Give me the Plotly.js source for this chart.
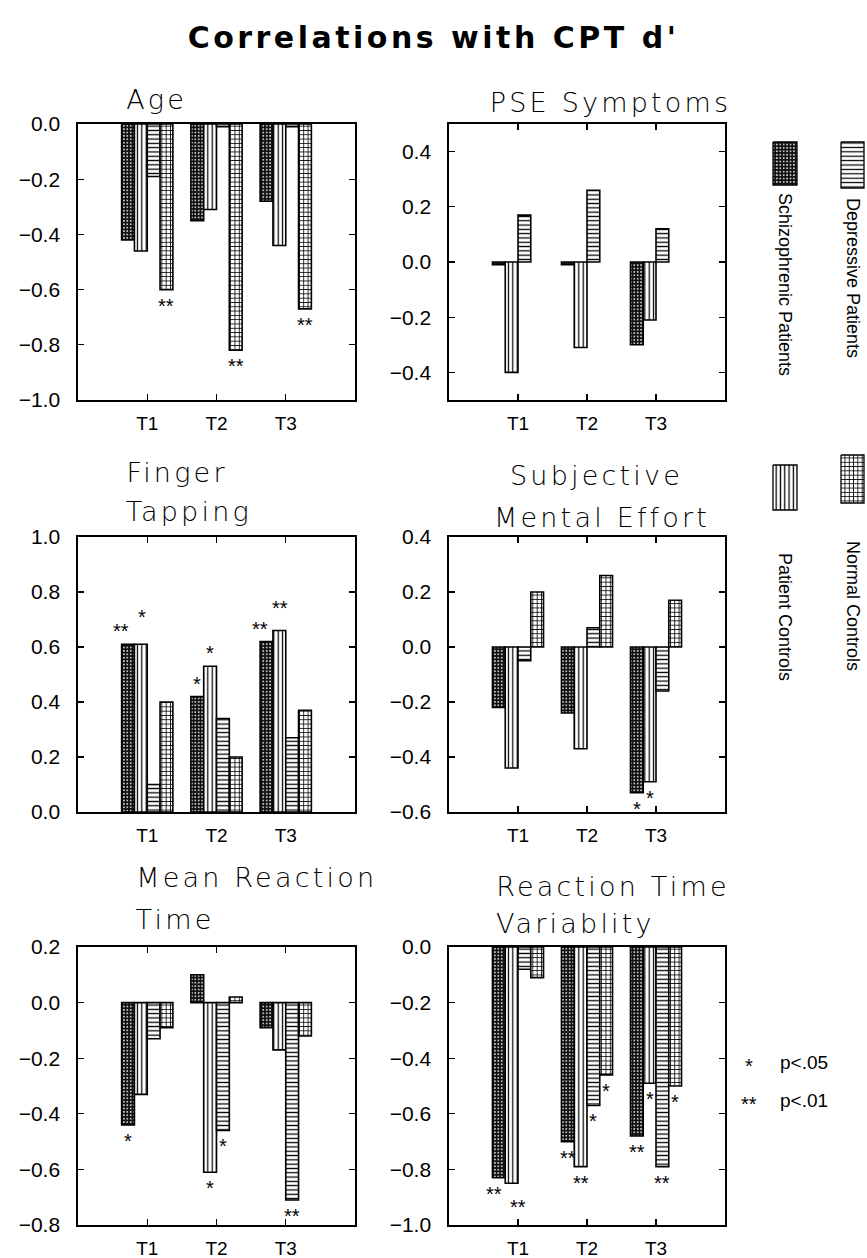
<!DOCTYPE html>
<html>
<head>
<meta charset="utf-8">
<script src="https://cdn.plot.ly/plotly-3.0.1.min.js"></script>
<style>
html,body{margin:0;padding:0;background:#fff;}
#chart{width:867px;height:1258px;}
.gtitle{letter-spacing:3.5px;}
.ptitle{letter-spacing:3.2px;}
</style>
</head>
<body>
<div id="chart"></div>
<script>
// ---------- DATA ----------
const groups = ['T1', 'T2', 'T3'];
const seriesNames = ['Schizophrenic Patients', 'Depressive Patients', 'Patient Controls', 'Normal Controls'];

// each panel: [schizophrenic, depressive, patient controls, normal controls] x [T1, T2, T3]
const age = [[-0.42, -0.35, -0.28], [-0.46, -0.31, -0.44], [-0.19, -0.01, -0.01], [-0.60, -0.82, -0.67]];
const ageSig = [['', '', ''], ['', '', ''], ['', '', ''], ['**', '**', '**']];

const pse = [[-0.01, -0.01, -0.30], [-0.40, -0.31, -0.21], [0.17, 0.26, 0.12], [null, null, null]];
const pseSig = [['', '', ''], ['', '', ''], ['', '', ''], ['', '', '']];

const finger = [[0.61, 0.42, 0.62], [0.61, 0.53, 0.66], [0.10, 0.34, 0.27], [0.40, 0.20, 0.37]];
const fingerSig = [['**', '*', '**'], ['*', '*', '**'], ['', '', ''], ['', '', '']];

const effort = [[-0.22, -0.24, -0.53], [-0.44, -0.37, -0.49], [-0.05, 0.07, -0.16], [0.20, 0.26, 0.17]];
const effortSig = [['', '', '*'], ['', '', '*'], ['', '', ''], ['', '', '']];

const meanRT = [[-0.44, 0.10, -0.09], [-0.33, -0.61, -0.17], [-0.13, -0.46, -0.71], [-0.09, 0.02, -0.12]];
const meanRTSig = [['*', '', ''], ['', '*', ''], ['', '*', '**'], ['', '', '']];

const rtVar = [[-0.83, -0.70, -0.68], [-0.85, -0.79, -0.49], [-0.08, -0.57, -0.79], [-0.11, -0.46, -0.50]];
const rtVarSig = [['**', '**', '**'], ['**', '**', '*'], ['', '*', '**'], ['', '*', '*']];

const sigLegend = [['*', 'p<.05'], ['**', 'p<.01']];

// ---------- LAYOUT HELPERS ----------
const W = 867, H = 1258;
const fx = x => x / W;
const fy = y => 1 - y / H;
const TITLE_LS = 3.2; // letter spacing of the panel titles (px)

const LEFT = [78, 355], RIGHT = [449, 725];
const ROW1 = [124, 400], ROW2 = [537, 812], ROW3 = [947, 1225];

const panels = [
  {data: age, sig: ageSig, range: [-1, 0], xd: LEFT, yd: ROW1,
   title: [['Age', 124, 100]]},
  {data: pse, sig: pseSig, range: [-0.5, 0.5], xd: RIGHT, yd: ROW1,
   title: [['PSE Symptoms', 488, 102]]},
  {data: finger, sig: fingerSig, range: [0, 1], xd: LEFT, yd: ROW2,
   title: [['Finger', 124, 473], ['Tapping', 124, 511]]},
  {data: effort, sig: effortSig, range: [-0.6, 0.4], xd: RIGHT, yd: ROW2,
   title: [['Subjective', 508, 475], ['Mental Effort', 492, 517]]},
  {data: meanRT, sig: meanRTSig, range: [-0.8, 0.2], xd: LEFT, yd: ROW3,
   title: [['Mean Reaction', 134, 877], ['Time', 134, 919]]},
  {data: rtVar, sig: rtVarSig, range: [-1, 0], xd: RIGHT, yd: ROW3,
   title: [['Reaction Time', 494, 886], ['Variablity', 494, 923]]}
];

const patterns = [
  {shape: '.', bgcolor: '#111', fgcolor: '#fff', size: 3.4, solidity: 0.2},
  {shape: '|', bgcolor: '#fff', fgcolor: '#000', size: 4.4, solidity: 0.28},
  {shape: '-', bgcolor: '#fff', fgcolor: '#000', size: 4.3, solidity: 0.3},
  {shape: '+', bgcolor: '#fff', fgcolor: '#000', size: 4.3, solidity: 0.34}
];
const legendPatterns = [
  {shape: '.', bgcolor: '#111', fgcolor: '#fff', size: 3.4, solidity: 0.2},
  {shape: '-', bgcolor: '#fff', fgcolor: '#000', size: 4.4, solidity: 0.28},
  {shape: '|', bgcolor: '#fff', fgcolor: '#000', size: 4.3, solidity: 0.3},
  {shape: '+', bgcolor: '#fff', fgcolor: '#000', size: 4.3, solidity: 0.34}
];

const BARGAP = 0.26;
const barW = (1 - BARGAP) / 4;
const FAMILY = 'Liberation Sans, Arial, sans-serif';
const tickFont = {family: FAMILY, size: 21, color: '#000'};
const titleFont = {family: 'DejaVu Sans, sans-serif', size: 27, color: '#000', weight: 200};
const starFont = {family: FAMILY, size: 20, color: '#000'};

const traces = [];
const annotations = [];
const titleIdx = [];
const layout = {
  width: W, height: H,
  margin: {l: 0, r: 0, t: 0, b: 0},
  paper_bgcolor: '#fff', plot_bgcolor: 'rgba(0,0,0,0)',
  barmode: 'group', bargap: BARGAP, bargroupgap: 0,
  showlegend: false,
  annotations: annotations,
  font: tickFont,
  title: {
    text: "Correlations with CPT d'", x: 0.5, xanchor: 'center', y: fy(37), yanchor: 'middle',
    font: {family: 'DejaVu Sans, sans-serif', size: 30, color: '#000', weight: 'bold'}
  }
};

panels.forEach((p, k) => {
  const n = k + 1;
  const xa = 'xaxis' + (n === 1 ? '' : n), ya = 'yaxis' + (n === 1 ? '' : n);
  const xr = 'x' + (n === 1 ? '' : n), yr = 'y' + (n === 1 ? '' : n);
  layout[xa] = {
    domain: [fx(p.xd[0]), fx(p.xd[1])], anchor: yr,
    range: [0, 4], tickmode: 'array', tickvals: [1, 2, 3], ticktext: groups,
    ticks: 'inside', ticklen: 6, tickwidth: 1.3, tickcolor: '#000',
    showline: true, linecolor: '#000', linewidth: 1.7, mirror: 'ticks',
    showgrid: false, zeroline: false, fixedrange: true,
    tickfont: {family: FAMILY, size: 19, color: '#000'}, ticklabelstandoff: 5
  };
  layout[ya] = {
    domain: [fy(p.yd[1]), fy(p.yd[0])], anchor: xr,
    range: p.range, dtick: 0.2, tick0: 0, tickformat: '.1f',
    ticks: 'inside', ticklen: 6, tickwidth: 1.3, tickcolor: '#000',
    showline: true, linecolor: '#000', linewidth: 1.7, mirror: 'ticks',
    showgrid: false, zeroline: false, fixedrange: true,
    tickfont: tickFont, ticklabelstandoff: 12
  };
  p.data.forEach((vals, i) => {
    traces.push({
      type: 'bar', name: seriesNames[i], x: [1, 2, 3], y: vals,
      xaxis: xr, yaxis: yr, offsetgroup: String(i),
      marker: {color: '#fff', line: {color: '#000', width: 1.6}, pattern: patterns[i]},
      hoverinfo: 'skip'
    });
  });
  // significance stars, placed relative to the bar ends; neighbouring stars are staggered
  for (let g = 0; g < 3; g++) {
    const shifts = [0, 1, 2, 3].map(() => ({dx: 0, dy: 0}));
    for (let i = 1; i < 4; i++) {
      const a = p.data[i - 1][g], b = p.data[i][g];
      if (!(p.sig[i][g] && p.sig[i - 1][g]) || a === null || b === null) continue;
      const d = Math.abs(a - b);
      if (b > 0 && d < 0.05) { shifts[i - 1].dx -= 7; shifts[i].dx += 1; shifts[i].dy += 14 - d * 100; }
      else if (b < 0 && d < 0.03) { shifts[i - 1].dx -= 5; shifts[i].dx += 6; shifts[i].dy -= 8; }
    }
    for (let i = 0; i < 4; i++) {
      const s = p.sig[i][g], v = p.data[i][g];
      if (!s || v === null) continue;
      annotations.push({
        xref: xr, yref: yr, x: g + 1 + (i - 1.5) * barW, y: v,
        text: s, showarrow: false, font: starFont,
        xanchor: 'center', yanchor: 'middle',
        xshift: shifts[i].dx,
        yshift: (v < 0 ? -16 : 13) + shifts[i].dy
      });
    }
  }
  p.title.forEach(t => {
    titleIdx.push(annotations.length);
    annotations.push({
      xref: 'paper', yref: 'paper', x: fx(t[1] + t[0].length * TITLE_LS / 2), y: fy(t[2]),
      text: t[0], showarrow: false, font: titleFont,
      xanchor: 'left', yanchor: 'middle'
    });
  });
});

// rotated legend (overlay axis in pixel units)
layout.xaxis7 = {domain: [0, 1], range: [0, W], visible: false, fixedrange: true, anchor: 'y7'};
layout.yaxis7 = {domain: [0, 1], range: [H, 0], visible: false, fixedrange: true, anchor: 'x7'};
const swatches = [[773, 797, 142, 185], [841, 864, 142, 188], [773, 797, 465, 510], [841, 864, 455, 503]];
const legendText = [[785, 284], [853, 278], [785, 617], [853, 606]];
swatches.forEach((b, i) => {
  traces.push({
    type: 'scatter', mode: 'lines', xaxis: 'x7', yaxis: 'y7',
    x: [b[0], b[1], b[1], b[0], b[0]], y: [b[2], b[2], b[3], b[3], b[2]],
    fill: 'toself', fillcolor: '#fff', fillpattern: legendPatterns[i],
    line: {color: '#000', width: 1.3}, hoverinfo: 'skip'
  });
  annotations.push({
    xref: 'paper', yref: 'paper', x: fx(legendText[i][0]), y: fy(legendText[i][1]),
    text: seriesNames[i], textangle: 90, showarrow: false,
    font: {family: FAMILY, size: 18, color: '#000'},
    xanchor: 'center', yanchor: 'middle'
  });
});

// significance legend
sigLegend.forEach((s, i) => {
  const yy = 1062 + i * 38;
  annotations.push({xref: 'paper', yref: 'paper', x: fx(749), y: fy(yy + 4), text: s[0],
    showarrow: false, font: starFont, xanchor: 'center', yanchor: 'middle'});
  annotations.push({xref: 'paper', yref: 'paper', x: fx(778), y: fy(yy), text: s[1],
    showarrow: false, font: {family: FAMILY, size: 19, color: '#000'},
    xanchor: 'left', yanchor: 'middle'});
});

Plotly.newPlot('chart', traces, layout, {staticPlot: true, displayModeBar: false}).then(gd => {
  titleIdx.forEach(idx => {
    const el = gd.querySelector('.annotation[data-index="' + idx + '"] text');
    if (el) el.classList.add('ptitle');
  });
});
</script>
</body>
</html>
